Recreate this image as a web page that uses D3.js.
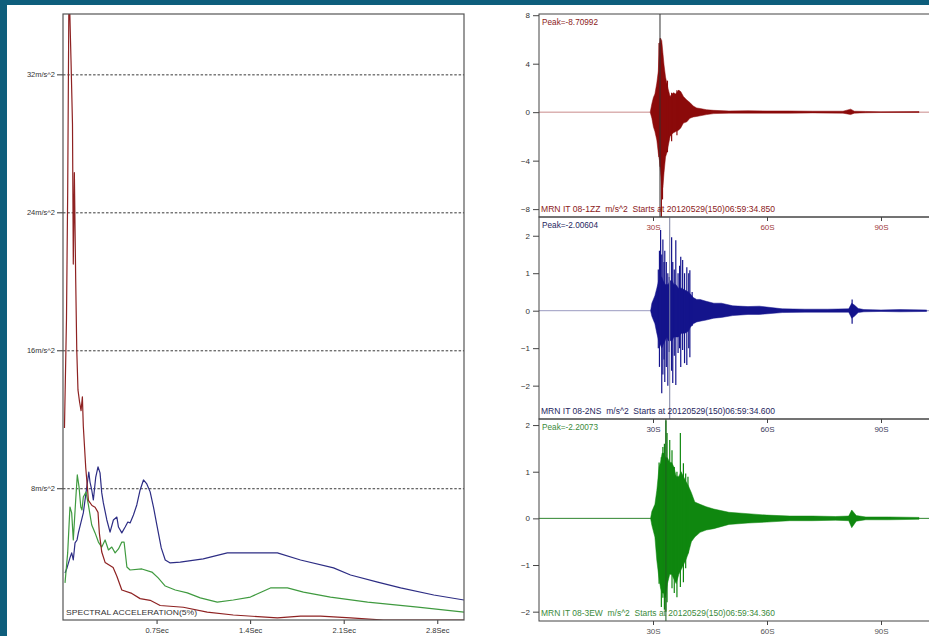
<!DOCTYPE html>
<html>
<head>
<meta charset="utf-8">
<script src="https://cdn.jsdelivr.net/npm/d3@7"></script>
<style>
  html, body { margin: 0; padding: 0; background: #0e5e7c; }
  svg { display: block; font-family: "Liberation Sans", Arial, sans-serif; }
</style>
</head>
<body>
<svg id="chart" width="929" height="636"></svg>
<script>
// ---- response spectra (period in s, spectral acceleration in m/s^2) ----
const specZPeriod = [0.011, 0.026, 0.035, 0.045, 0.055, 0.060, 0.071, 0.077, 0.085, 0.095, 0.103, 0.112, 0.124, 0.135, 0.145, 0.152, 0.170, 0.182, 0.190, 0.217, 0.240, 0.262, 0.272, 0.290, 0.315, 0.375, 0.403, 0.440, 0.515, 0.577, 0.652, 0.727, 0.900, 1.079, 1.274, 1.604, 1.777, 1.927, 2.151, 2.399, 3.0];
const specZSA     = [11.5, 17.8, 25.1, 37.5, 34.3, 32.8, 29.1, 21.0, 26.3, 20.1, 16.0, 13.7, 13.0, 12.5, 13.3, 11.6, 9.2, 8.1, 7.3, 7.0, 6.9, 6.6, 5.4, 4.3, 3.7, 3.4, 2.9, 2.1, 1.9, 1.6, 1.5, 1.2, 1.1, 0.82, 0.65, 0.48, 0.59, 0.59, 0.48, 0.36, 0.36];

const specNSPeriod = [0.015, 0.030, 0.052, 0.065, 0.077, 0.090, 0.105, 0.115, 0.152, 0.178, 0.193, 0.202, 0.215, 0.227, 0.245, 0.262, 0.277, 0.290, 0.302, 0.328, 0.352, 0.377, 0.403, 0.415, 0.440, 0.465, 0.485, 0.502, 0.527, 0.552, 0.577, 0.602, 0.627, 0.652, 0.677, 0.702, 0.735, 0.765, 0.802, 0.877, 1.049, 1.229, 1.604, 1.777, 2.024, 2.151, 2.354, 2.526, 2.774, 3.0];
const specNSSA     = [3.09, 3.38, 3.96, 4.25, 3.84, 4.83, 5.00, 5.41, 6.57, 8.08, 8.94, 8.36, 7.90, 7.32, 8.65, 9.24, 8.89, 7.73, 7.15, 6.16, 5.46, 6.16, 6.33, 5.75, 5.41, 5.75, 6.04, 5.99, 6.45, 7.03, 7.90, 8.48, 8.25, 7.79, 6.91, 5.87, 4.54, 3.84, 3.67, 3.72, 3.90, 4.25, 4.25, 3.84, 3.38, 2.97, 2.56, 2.22, 1.81, 1.52];

const specEWPeriod = [0.015, 0.035, 0.052, 0.065, 0.077, 0.095, 0.107, 0.120, 0.133, 0.142, 0.152, 0.172, 0.190, 0.215, 0.240, 0.265, 0.290, 0.315, 0.340, 0.365, 0.390, 0.415, 0.440, 0.457, 0.478, 0.502, 0.590, 0.665, 0.712, 0.765, 0.840, 0.930, 1.027, 1.154, 1.274, 1.402, 1.552, 1.679, 1.799, 2.001, 2.279, 2.654, 3.0];
const specEWSA     = [2.51, 4.25, 6.91, 6.57, 5.00, 7.32, 8.77, 8.08, 6.91, 6.74, 7.49, 7.78, 7.03, 5.87, 5.41, 4.88, 4.59, 5.00, 4.42, 4.59, 4.25, 4.48, 4.88, 4.88, 3.43, 3.26, 3.32, 3.14, 2.80, 2.33, 2.10, 1.93, 1.64, 1.40, 1.52, 1.69, 2.22, 2.22, 1.98, 1.69, 1.40, 1.11, 0.82];

const saTicks = [8, 16, 24, 32];
const saTickLabels = ["8m/s^2", "16m/s^2", "24m/s^2", "32m/s^2"];
const periodTicks = [0.7, 1.4, 2.1, 2.8];
const periodTickLabels = ["0.7Sec", "1.4Sec", "2.1Sec", "2.8Sec"];

// ---- seismograms: envelope (time s, upper, lower) and isolated spikes ----
const zzTime = [29.3, 29.7, 30.1, 30.5, 31.0, 31.4, 31.7, 32.0, 32.3, 32.6, 32.9, 33.3, 33.7, 34.0, 34.5, 35.0, 35.4, 36.0, 36.7, 37.3, 38.0, 38.9, 39.7, 40.6, 41.5, 42.4, 44.1, 46, 50, 55, 60, 66, 72, 80, 82, 83, 86, 90, 100];
const zzHigh = [0.05, 0.7, 1.2, 1.5, 2.4, 3.4, 5.6, 6.1, 5.9, 4.9, 3.9, 2.9, 2.3, 1.9, 1.3, 1.5, 1.6, 1.5, 1.8, 1.7, 1.3, 1.0, 0.8, 0.5, 0.35, 0.3, 0.2, 0.15, 0.1, 0.12, 0.1, 0.1, 0.08, 0.08, 0.25, 0.08, 0.06, 0.03, 0.05];
const zzLow  = [-0.05, -0.5, -1.2, -1.6, -2.3, -3.4, -4.0, -5.0, -6.0, -6.2, -5.0, -3.7, -3.3, -2.8, -2.0, -1.8, -1.7, -1.6, -1.5, -1.3, -0.9, -0.8, -0.5, -0.4, -0.35, -0.3, -0.2, -0.12, -0.08, -0.08, -0.08, -0.08, -0.06, -0.08, -0.2, -0.08, -0.05, -0.03, -0.03];
const zzSpikeTime = [31.6, 31.9, 32.2, 32.5, 33.8, 34.9, 36.3, 36.8];
const zzSpikeHigh = [5.7, 6.1, 5.2, 4.0, 2.6, 1.6, 1.8, 1.8];
const zzSpikeLow  = [-3.7, -4.5, -8.7, -7.2, -3.3, -2.4, -1.9, -1.2];

const nsTime = [29.4, 29.7, 30.5, 31.0, 31.5, 31.9, 32.3, 32.7, 33.2, 33.6, 34.0, 34.5, 35.0, 35.5, 36.0, 36.7, 37.5, 38.4, 39.3, 39.8, 40.6, 41.5, 42.4, 44, 46, 48, 51, 55, 58, 64, 70, 76, 81.5, 82.3, 83, 84, 85.5, 90, 95, 102];
const nsHigh = [0.02, 0.2, 0.4, 0.6, 0.8, 0.9, 0.9, 0.8, 0.7, 0.7, 0.7, 0.8, 0.8, 0.7, 0.7, 0.6, 0.6, 0.55, 0.5, 0.45, 0.35, 0.3, 0.3, 0.25, 0.2, 0.2, 0.13, 0.11, 0.12, 0.05, 0.04, 0.04, 0.05, 0.2, 0.15, 0.06, 0.03, 0.02, 0.03, 0.02];
const nsLow  = [-0.02, -0.15, -0.35, -0.6, -0.8, -0.9, -1.0, -0.9, -0.8, -0.7, -0.8, -0.8, -0.8, -0.7, -0.7, -0.7, -0.6, -0.6, -0.55, -0.45, -0.35, -0.3, -0.28, -0.25, -0.2, -0.18, -0.13, -0.1, -0.1, -0.05, -0.04, -0.04, -0.04, -0.2, -0.15, -0.05, -0.03, -0.02, -0.03, -0.02];
const nsSpikeTime = [31.4, 31.7, 32.0, 32.3, 32.6, 32.9, 33.1, 33.5, 33.9, 34.3, 34.9, 35.2, 35.6, 36.0, 36.6, 37.0, 37.3, 37.8, 38.3, 38.9, 39.4, 39.7, 40.3, 82.4];
const nsSpikeHigh = [1.1, 1.6, 2.15, 1.5, 1.9, 1.3, 1.6, 1.3, 1.0, 0.9, 1.96, 1.3, 1.1, 1.88, 1.0, 1.2, 1.44, 1.35, 1.0, 1.16, 1.0, 1.08, 0.5, 0.3];
const nsSpikeLow  = [-1.0, -1.5, -0.9, -2.2, -1.7, -1.3, -1.9, -1.5, -2.0, -1.1, -1.6, -1.93, -1.2, -1.98, -1.13, -1.0, -1.5, -1.05, -1.4, -1.45, -1.0, -1.24, -0.4, -0.35];

const ewTime = [29.4, 29.7, 30.5, 31.0, 31.6, 32.0, 32.4, 32.8, 33.3, 33.8, 34.4, 34.9, 35.5, 36.1, 36.8, 37.4, 38.0, 38.6, 39.3, 40.1, 41.0, 42.4, 44, 46, 50, 55, 60, 66, 72, 78, 81.5, 82.3, 83.5, 86, 92, 100];
const ewHigh = [0.02, 0.15, 0.3, 0.6, 1.1, 1.2, 1.4, 1.4, 1.3, 1.3, 1.2, 1.2, 1.1, 0.9, 0.9, 1.0, 0.9, 0.8, 0.7, 0.55, 0.35, 0.3, 0.25, 0.2, 0.13, 0.1, 0.07, 0.05, 0.05, 0.04, 0.05, 0.18, 0.06, 0.03, 0.03, 0.02];
const ewLow  = [-0.02, -0.15, -0.4, -0.9, -1.3, -1.5, -1.6, -1.6, -1.7, -1.4, -1.2, -1.2, -1.3, -1.4, -1.2, -1.1, -1.0, -0.9, -0.75, -0.5, -0.4, -0.3, -0.25, -0.22, -0.13, -0.1, -0.08, -0.05, -0.05, -0.04, -0.05, -0.2, -0.06, -0.03, -0.03, -0.02];
const ewSpikeTime = [31.6, 32.2, 32.6, 33.0, 33.4, 33.7, 34.4, 35.0, 35.6, 36.3, 37.2, 38.0, 38.6, 39.2];
const ewSpikeHigh = [1.2, 1.31, 1.53, 1.6, 2.1, 1.83, 1.68, 1.46, 1.1, 1.0, 1.83, 1.18, 0.96, 0.89];
const ewSpikeLow  = [-1.4, -1.9, -1.7, -1.96, -2.0, -1.8, -1.2, -1.5, -1.6, -1.69, -1.47, -1.37, -1.07, -0.75];

const timeTicks = [30, 60, 90];
const timeTickLabels = ["30S", "60S", "90S"];

const svg = d3.select("#chart");

// white sheet on the teal background
svg.append("rect")
  .attr("x", 7).attr("y", 5)
  .attr("width", 929 - 7).attr("height", 636 - 5)
  .attr("fill", "#fff");

// ================= response spectrum =================
const spec = { left: 63, top: 14, right: 464, bottom: 620 };

const px = d3.scaleLinear().domain([0, 3]).range([spec.left, spec.right]);
const py = d3.scaleLinear().domain([0.36, 35.5]).range([spec.bottom, spec.top]);

svg.append("clipPath").attr("id", "specClip")
  .append("rect")
  .attr("x", spec.left).attr("y", spec.top)
  .attr("width", spec.right - spec.left).attr("height", spec.bottom - spec.top);

// dashed gridlines
svg.append("g")
  .attr("transform", `translate(${spec.left},0)`)
  .call(d3.axisLeft(py).tickValues(saTicks).tickSize(-(spec.right - spec.left)).tickFormat(""))
  .call(g => g.select(".domain").remove())
  .call(g => g.selectAll("line")
    .attr("stroke", "#222")
    .attr("stroke-width", 0.9)
    .attr("stroke-dasharray", "2.5,1.8"));

// y axis labels
svg.append("g")
  .attr("transform", `translate(${spec.left},0)`)
  .call(d3.axisLeft(py).tickValues(saTicks).tickSize(6).tickPadding(2)
    .tickFormat((d, i) => saTickLabels[i]))
  .call(g => g.select(".domain").remove())
  .call(g => g.selectAll("line").attr("stroke", "#333"))
  .call(g => g.selectAll("text")
    .attr("font-size", 7.5)
    .attr("fill", "#333")
    .attr("font-family", "Liberation Sans, Arial, sans-serif"));

// x axis
svg.append("g")
  .attr("transform", `translate(0,${spec.bottom})`)
  .call(d3.axisBottom(px).tickValues(periodTicks).tickSize(4).tickPadding(4)
    .tickFormat((d, i) => periodTickLabels[i]))
  .call(g => g.select(".domain").remove())
  .call(g => g.selectAll("line").attr("stroke", "#333"))
  .call(g => g.selectAll("text")
    .attr("font-size", 7.5)
    .attr("fill", "#333")
    .attr("font-family", "Liberation Sans, Arial, sans-serif"));

const specSeries = [
  { period: specNSPeriod, sa: specNSSA, color: "#2d2d84" },
  { period: specEWPeriod, sa: specEWSA, color: "#3f9a3f" },
  { period: specZPeriod, sa: specZSA, color: "#8e2222" }
];

const specPlot = svg.append("g").attr("clip-path", "url(#specClip)");
specSeries.forEach(s => {
  const line = d3.line()
    .x(i => px(s.period[i]))
    .y(i => py(s.sa[i]));
  specPlot.append("path")
    .attr("d", line(d3.range(s.period.length)))
    .attr("fill", "none")
    .attr("stroke", s.color)
    .attr("stroke-width", 1.2)
    .attr("stroke-linejoin", "round");
});

svg.append("text")
  .attr("x", 66).attr("y", 615)
  .attr("font-size", 8)
  .attr("fill", "#333")
  .attr("textLength", 131)
  .attr("lengthAdjust", "spacingAndGlyphs")
  .text("SPECTRAL ACCELERATION(5%)");

svg.append("rect")
  .attr("x", spec.left).attr("y", spec.top)
  .attr("width", spec.right - spec.left).attr("height", spec.bottom - spec.top)
  .attr("fill", "none")
  .attr("stroke", "#555")
  .attr("stroke-width", 1.2);

// ================= seismograms =================
const tx = d3.scaleLinear().domain([0, 105]).range([539, 938]);

const panels = [
  {
    top: 14, bottom: 217, domain: [-8.65, 8.1], ticks: [8, 4, 0, -4, -8],
    time: zzTime, high: zzHigh, low: zzLow,
    spikeTime: zzSpikeTime, spikeHigh: zzSpikeHigh, spikeLow: zzSpikeLow,
    color: "#8b0a0a", zero: "#c98a8a", text: "#8b1a1a", tickText: "#a03a3a",
    marker: 31.84, markerColor: "#333",
    peak: "Peak=-8.70992",
    info: "MRN IT 08-1ZZ  m/s^2  Starts at 20120529(150)06:59:34.850"
  },
  {
    top: 217, bottom: 419, domain: [-2.89, 2.5], ticks: [2, 1, 0, -1, -2],
    time: nsTime, high: nsHigh, low: nsLow,
    spikeTime: nsSpikeTime, spikeHigh: nsSpikeHigh, spikeLow: nsSpikeLow,
    color: "#14148c", zero: "#9a9ac0", text: "#262660", tickText: "#3b3b5a",
    marker: 34.4, markerColor: "#7a80a0",
    peak: "Peak=-2.00604",
    info: "MRN IT 08-2NS  m/s^2  Starts at 20120529(150)06:59:34.600"
  },
  {
    top: 419, bottom: 621, domain: [-2.2, 2.13], ticks: [2, 1, 0, -1, -2],
    time: ewTime, high: ewHigh, low: ewLow,
    spikeTime: ewSpikeTime, spikeHigh: ewSpikeHigh, spikeLow: ewSpikeLow,
    color: "#0f870f", zero: "#2f862f", text: "#3b8a3b", tickText: "#555",
    marker: 33.4, markerColor: "#1f5f1f",
    peak: "Peak=-2.20073",
    info: "MRN IT 08-3EW  m/s^2  Starts at 20120529(150)06:59:34.360"
  }
];

panels.forEach((p, k) => {
  const y = d3.scaleLinear().domain(p.domain).range([p.bottom, p.top]);
  const g = svg.append("g");

  svg.append("clipPath").attr("id", "wave" + k)
    .append("rect")
    .attr("x", tx(0)).attr("y", p.top)
    .attr("width", tx(105) - tx(0)).attr("height", p.bottom - p.top);

  const plot = g.append("g").attr("clip-path", `url(#wave${k})`);

  // zero line
  plot.append("line")
    .attr("x1", tx(0)).attr("x2", tx(105))
    .attr("y1", y(0)).attr("y2", y(0))
    .attr("stroke", p.zero).attr("stroke-width", 1);

  const area = d3.area()
    .x(i => tx(p.time[i]))
    .y0(i => y(p.low[i]))
    .y1(i => y(p.high[i]));

  plot.append("path")
    .attr("d", area(d3.range(p.time.length)))
    .attr("fill", p.color)
    .attr("stroke", p.color)
    .attr("stroke-width", 0.5);

  plot.selectAll("line.spike")
    .data(d3.range(p.spikeTime.length))
    .join("line")
    .attr("class", "spike")
    .attr("x1", i => tx(p.spikeTime[i])).attr("x2", i => tx(p.spikeTime[i]))
    .attr("y1", i => y(p.spikeHigh[i])).attr("y2", i => y(p.spikeLow[i]))
    .attr("stroke", p.color).attr("stroke-width", 1.2);

  // pick marker
  plot.append("line")
    .attr("x1", tx(p.marker)).attr("x2", tx(p.marker))
    .attr("y1", p.top).attr("y2", p.bottom)
    .attr("stroke", p.markerColor).attr("stroke-width", 1);

  // y axis
  g.append("g")
    .attr("transform", `translate(${tx(0)},0)`)
    .call(d3.axisLeft(y).tickValues(p.ticks).tickSize(6).tickPadding(3).tickFormat(d3.format("d")))
    .call(a => a.select(".domain").remove())
    .call(a => a.selectAll("line").attr("stroke", "#444"))
    .call(a => a.selectAll("text")
      .attr("font-size", 8)
      .attr("fill", "#333")
      .attr("font-family", "Liberation Sans, Arial, sans-serif"));

  // frame
  g.append("rect")
    .attr("x", tx(0)).attr("y", p.top)
    .attr("width", tx(105) - tx(0)).attr("height", p.bottom - p.top)
    .attr("fill", "none")
    .attr("stroke", "#444")
    .attr("stroke-width", 1);

  g.append("text")
    .attr("x", 542).attr("y", p.top + 10.5)
    .attr("font-size", 8.5)
    .attr("fill", p.text)
    .attr("textLength", 56)
    .attr("lengthAdjust", "spacingAndGlyphs")
    .text(p.peak);

  g.append("text")
    .attr("x", 541).attr("y", p.bottom - 5.5)
    .attr("font-size", 8.5)
    .attr("fill", p.text)
    .attr("textLength", 234)
    .attr("lengthAdjust", "spacingAndGlyphs")
    .style("white-space", "pre")
    .text(p.info);
});

// time axes drawn last so labels sit over the next panel
panels.forEach(p => {
  svg.append("g")
    .attr("transform", `translate(0,${p.bottom})`)
    .call(d3.axisBottom(tx).tickValues(timeTicks).tickSize(4).tickPadding(3)
      .tickFormat((d, i) => timeTickLabels[i]))
    .call(a => a.select(".domain").remove())
    .call(a => a.selectAll("line").attr("stroke", "#444"))
    .call(a => a.selectAll("text")
      .attr("font-size", 8)
      .attr("fill", p.tickText)
      .attr("font-family", "Liberation Sans, Arial, sans-serif"));
});
</script>
</body>
</html>
